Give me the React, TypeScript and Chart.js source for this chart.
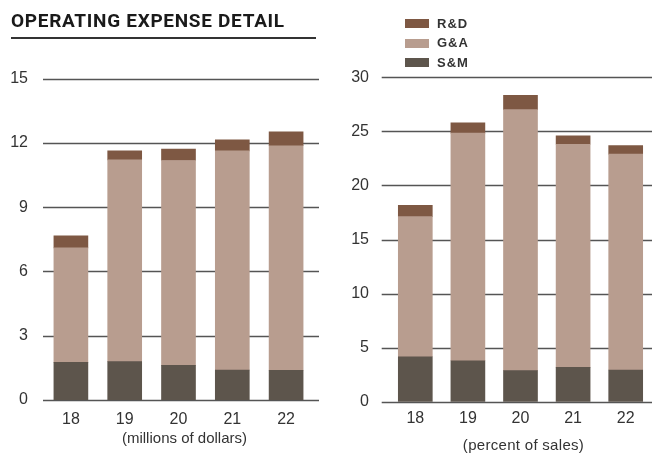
import React, { useEffect, useRef } from "react";
import { Chart, registerables } from "chart.js";

Chart.register(...registerables);

// ---- data ----
const years = ["18", "19", "20", "21", "22"];

// millions of dollars
const dollarsSM = [1.76, 1.79, 1.62, 1.4, 1.39];
const dollarsGA = [5.34, 9.42, 9.56, 10.23, 10.48];
const dollarsRD = [0.56, 0.42, 0.53, 0.52, 0.65];
const dollarAxis = [0, 15, 3]; // min, max, step

// percent of sales
const pctSM = [4.16, 3.79, 2.87, 3.18, 2.93];
const pctGA = [12.95, 21.04, 24.14, 20.63, 19.96];
const pctRD = [1.06, 0.95, 1.33, 0.77, 0.79];
const pctAxis = [0, 30, 5];

const seriesNames = ["S&M", "G&A", "R&D"];
const legendOrder = ["R&D", "G&A", "S&M"];

const COLORS: Record<string, string> = {
  "R&D": "#7e5843",
  "G&A": "#b89d8f",
  "S&M": "#5d554c",
};

const FONT = "'Liberation Sans', Arial, sans-serif";

type PanelProps = {
  sm: number[];
  ga: number[];
  rd: number[];
  axis: number[];
  left: number;
  width: number;
  height: number;
  padTop: number;
  padRight: number;
  yWidth: number;
  xHeight: number;
  gridLeft: number;
  gridRight: number;
  yTickPad: number;
  xTickPad: number;
};

function BarPanel(p: PanelProps) {
  const ref = useRef<HTMLCanvasElement | null>(null);
  useEffect(() => {
    if (!ref.current) return;
    const gridPlugin = {
      id: "extGrid",
      beforeDatasetsDraw(chart: any) {
        const ctx = chart.ctx;
        const ys = chart.scales.y;
        ctx.save();
        ctx.strokeStyle = "#555";
        ctx.lineWidth = 1.3;
        ys.ticks.forEach((t: any) => {
          const y = Math.round(ys.getPixelForValue(t.value)) + 0.5;
          ctx.beginPath();
          ctx.moveTo(p.gridLeft, y);
          ctx.lineTo(p.gridRight, y);
          ctx.stroke();
        });
        ctx.restore();
      },
    };
    const data = [p.sm, p.ga, p.rd];
    const chart = new Chart(ref.current, {
      type: "bar",
      data: {
        labels: years,
        datasets: seriesNames.map((n, i) => ({
          label: n,
          data: data[i],
          backgroundColor: COLORS[n],
          borderWidth: 0,
          barThickness: 34,
        })),
      },
      options: {
        animation: false,
        responsive: false,
        maintainAspectRatio: false,
        layout: { padding: { left: 0, top: p.padTop, right: p.padRight, bottom: 0 } },
        plugins: { legend: { display: false }, tooltip: { enabled: false } },
        scales: {
          x: {
            stacked: true,
            grid: { display: false, drawTicks: false },
            border: { display: false },
            ticks: { color: "#333", font: { family: FONT, size: 16 }, padding: p.xTickPad },
            afterFit(s: any) {
              s.height = p.xHeight;
            },
          },
          y: {
            stacked: true,
            min: p.axis[0],
            max: p.axis[1],
            grid: { display: false, drawTicks: false },
            border: { display: false },
            ticks: {
              stepSize: p.axis[2],
              color: "#333",
              font: { family: FONT, size: 16 },
              padding: p.yTickPad,
            },
            afterFit(s: any) {
              s.width = p.yWidth;
            },
          },
        },
      },
      plugins: [gridPlugin],
    } as any);
    return () => chart.destroy();
  }, []);
  return (
    <canvas
      ref={ref}
      width={p.width}
      height={p.height}
      style={{ position: "absolute", left: p.left, top: 0, width: p.width, height: p.height }}
    />
  );
}

export default function App() {
  const legendTops = [17.3, 36.3, 55.7];
  const swatchTops = [19, 38.5, 58];
  return (
    <div
      style={{
        position: "absolute",
        left: 0,
        top: 0,
        width: 652,
        height: 453,
        background: "#fff",
        overflow: "hidden",
      }}
    >
      <BarPanel
        sm={dollarsSM}
        ga={dollarsGA}
        rd={dollarsRD}
        axis={dollarAxis}
        left={0}
        width={330}
        height={453}
        padTop={78.7}
        padRight={17}
        yWidth={44}
        xHeight={53}
        gridLeft={43}
        gridRight={319}
        yTickPad={16}
        xTickPad={10}
      />
      <BarPanel
        sm={pctSM}
        ga={pctGA}
        rd={pctRD}
        axis={pctAxis}
        left={330}
        width={322}
        height={453}
        padTop={77.3}
        padRight={0}
        yWidth={59}
        xHeight={51.3}
        gridLeft={51.7}
        gridRight={322}
        yTickPad={20}
        xTickPad={7.5}
      />
      <div
        style={{
          position: "absolute",
          left: 11,
          top: 11,
          fontFamily: "Roboto, 'Liberation Sans', sans-serif",
          fontWeight: 700,
          fontSize: 19,
          lineHeight: "19px",
          letterSpacing: 0.7,
          color: "#1a1a1a",
          whiteSpace: "nowrap",
        }}
      >
        OPERATING EXPENSE DETAIL
      </div>
      <div style={{ position: "absolute", left: 11, top: 37, width: 305, height: 2, background: "#333" }} />
      {legendOrder.map((n, i) => (
        <React.Fragment key={n}>
          <div
            style={{
              position: "absolute",
              left: 405,
              top: swatchTops[i],
              width: 24,
              height: 9,
              background: COLORS[n],
            }}
          />
          <div
            style={{
              position: "absolute",
              left: 437,
              top: legendTops[i],
              fontFamily: FONT,
              fontWeight: 700,
              fontSize: 13,
              lineHeight: "13px",
              letterSpacing: 1,
              color: "#333",
              whiteSpace: "nowrap",
            }}
          >
            {n}
          </div>
        </React.Fragment>
      ))}
      <div
        style={{
          position: "absolute",
          left: 84.5,
          width: 200,
          top: 429.5,
          textAlign: "center",
          fontFamily: FONT,
          fontSize: 15,
          lineHeight: "15px",
          color: "#333",
        }}
      >
        (millions of dollars)
      </div>
      <div
        style={{
          position: "absolute",
          left: 423.5,
          width: 200,
          top: 436.5,
          textAlign: "center",
          fontFamily: FONT,
          fontSize: 15,
          lineHeight: "15px",
          letterSpacing: 0.3,
          color: "#333",
        }}
      >
        (percent of sales)
      </div>
    </div>
  );
}
